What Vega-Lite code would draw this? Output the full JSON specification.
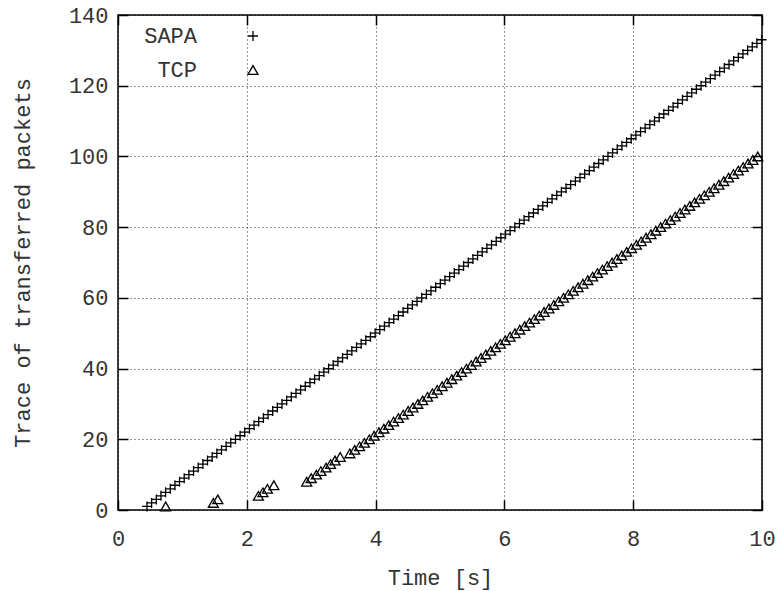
{
  "$schema": "https://vega.github.io/schema/vega-lite/v6.json",
  "width": 644,
  "height": 495,
  "autosize": {"type": "none"},
  "padding": {"left": 118, "top": 15, "right": 16, "bottom": 81},
  "background": "white",
  "config": {
    "view": {"stroke": "#000", "strokeWidth": 1.5},
    "font": "Liberation Mono",
    "axis": {
      "labelFont": "Liberation Mono",
      "titleFont": "Liberation Mono",
      "labelFontSize": 22,
      "titleFontSize": 22,
      "titleFontWeight": "normal",
      "labelColor": "#333",
      "titleColor": "#333",
      "labelFlush": false,
      "labelOverlap": false,
      "domain": false,
      "tickColor": "#000",
      "tickWidth": 1.5,
      "tickSize": -10,
      "gridColor": "#000",
      "gridDash": [1, 3],
      "gridWidth": 1,
      "gridOpacity": 0.85
    },
    "legend": {
      "labelFont": "Liberation Mono",
      "labelFontSize": 22,
      "labelColor": "#333"
    }
  },
  "data": {
    "values": [
      {"s":"SAPA","t":0.450,"n":1},{"s":"SAPA","t":0.522,"n":2},{"s":"SAPA","t":0.595,"n":3},{"s":"SAPA","t":0.667,"n":4},{"s":"SAPA","t":0.739,"n":5},
      {"s":"SAPA","t":0.812,"n":6},{"s":"SAPA","t":0.884,"n":7},{"s":"SAPA","t":0.956,"n":8},{"s":"SAPA","t":1.028,"n":9},{"s":"SAPA","t":1.101,"n":10},
      {"s":"SAPA","t":1.173,"n":11},{"s":"SAPA","t":1.245,"n":12},{"s":"SAPA","t":1.318,"n":13},{"s":"SAPA","t":1.390,"n":14},{"s":"SAPA","t":1.462,"n":15},
      {"s":"SAPA","t":1.535,"n":16},{"s":"SAPA","t":1.607,"n":17},{"s":"SAPA","t":1.679,"n":18},{"s":"SAPA","t":1.751,"n":19},{"s":"SAPA","t":1.824,"n":20},
      {"s":"SAPA","t":1.896,"n":21},{"s":"SAPA","t":1.968,"n":22},{"s":"SAPA","t":2.041,"n":23},{"s":"SAPA","t":2.113,"n":24},{"s":"SAPA","t":2.185,"n":25},
      {"s":"SAPA","t":2.258,"n":26},{"s":"SAPA","t":2.330,"n":27},{"s":"SAPA","t":2.402,"n":28},{"s":"SAPA","t":2.474,"n":29},{"s":"SAPA","t":2.547,"n":30},
      {"s":"SAPA","t":2.619,"n":31},{"s":"SAPA","t":2.691,"n":32},{"s":"SAPA","t":2.764,"n":33},{"s":"SAPA","t":2.836,"n":34},{"s":"SAPA","t":2.908,"n":35},
      {"s":"SAPA","t":2.981,"n":36},{"s":"SAPA","t":3.053,"n":37},{"s":"SAPA","t":3.125,"n":38},{"s":"SAPA","t":3.197,"n":39},{"s":"SAPA","t":3.270,"n":40},
      {"s":"SAPA","t":3.342,"n":41},{"s":"SAPA","t":3.414,"n":42},{"s":"SAPA","t":3.487,"n":43},{"s":"SAPA","t":3.559,"n":44},{"s":"SAPA","t":3.631,"n":45},
      {"s":"SAPA","t":3.704,"n":46},{"s":"SAPA","t":3.776,"n":47},{"s":"SAPA","t":3.848,"n":48},{"s":"SAPA","t":3.920,"n":49},{"s":"SAPA","t":3.993,"n":50},
      {"s":"SAPA","t":4.065,"n":51},{"s":"SAPA","t":4.137,"n":52},{"s":"SAPA","t":4.210,"n":53},{"s":"SAPA","t":4.282,"n":54},{"s":"SAPA","t":4.354,"n":55},
      {"s":"SAPA","t":4.427,"n":56},{"s":"SAPA","t":4.499,"n":57},{"s":"SAPA","t":4.571,"n":58},{"s":"SAPA","t":4.643,"n":59},{"s":"SAPA","t":4.716,"n":60},
      {"s":"SAPA","t":4.788,"n":61},{"s":"SAPA","t":4.860,"n":62},{"s":"SAPA","t":4.933,"n":63},{"s":"SAPA","t":5.005,"n":64},{"s":"SAPA","t":5.077,"n":65},
      {"s":"SAPA","t":5.150,"n":66},{"s":"SAPA","t":5.222,"n":67},{"s":"SAPA","t":5.294,"n":68},{"s":"SAPA","t":5.366,"n":69},{"s":"SAPA","t":5.439,"n":70},
      {"s":"SAPA","t":5.511,"n":71},{"s":"SAPA","t":5.583,"n":72},{"s":"SAPA","t":5.656,"n":73},{"s":"SAPA","t":5.728,"n":74},{"s":"SAPA","t":5.800,"n":75},
      {"s":"SAPA","t":5.873,"n":76},{"s":"SAPA","t":5.945,"n":77},{"s":"SAPA","t":6.017,"n":78},{"s":"SAPA","t":6.089,"n":79},{"s":"SAPA","t":6.162,"n":80},
      {"s":"SAPA","t":6.234,"n":81},{"s":"SAPA","t":6.306,"n":82},{"s":"SAPA","t":6.379,"n":83},{"s":"SAPA","t":6.451,"n":84},{"s":"SAPA","t":6.523,"n":85},
      {"s":"SAPA","t":6.596,"n":86},{"s":"SAPA","t":6.668,"n":87},{"s":"SAPA","t":6.740,"n":88},{"s":"SAPA","t":6.812,"n":89},{"s":"SAPA","t":6.885,"n":90},
      {"s":"SAPA","t":6.957,"n":91},{"s":"SAPA","t":7.029,"n":92},{"s":"SAPA","t":7.102,"n":93},{"s":"SAPA","t":7.174,"n":94},{"s":"SAPA","t":7.246,"n":95},
      {"s":"SAPA","t":7.319,"n":96},{"s":"SAPA","t":7.391,"n":97},{"s":"SAPA","t":7.463,"n":98},{"s":"SAPA","t":7.535,"n":99},{"s":"SAPA","t":7.608,"n":100},
      {"s":"SAPA","t":7.680,"n":101},{"s":"SAPA","t":7.752,"n":102},{"s":"SAPA","t":7.825,"n":103},{"s":"SAPA","t":7.897,"n":104},{"s":"SAPA","t":7.969,"n":105},
      {"s":"SAPA","t":8.042,"n":106},{"s":"SAPA","t":8.114,"n":107},{"s":"SAPA","t":8.186,"n":108},{"s":"SAPA","t":8.258,"n":109},{"s":"SAPA","t":8.331,"n":110},
      {"s":"SAPA","t":8.403,"n":111},{"s":"SAPA","t":8.475,"n":112},{"s":"SAPA","t":8.548,"n":113},{"s":"SAPA","t":8.620,"n":114},{"s":"SAPA","t":8.692,"n":115},
      {"s":"SAPA","t":8.765,"n":116},{"s":"SAPA","t":8.837,"n":117},{"s":"SAPA","t":8.909,"n":118},{"s":"SAPA","t":8.981,"n":119},{"s":"SAPA","t":9.054,"n":120},
      {"s":"SAPA","t":9.126,"n":121},{"s":"SAPA","t":9.198,"n":122},{"s":"SAPA","t":9.271,"n":123},{"s":"SAPA","t":9.343,"n":124},{"s":"SAPA","t":9.415,"n":125},
      {"s":"SAPA","t":9.488,"n":126},{"s":"SAPA","t":9.560,"n":127},{"s":"SAPA","t":9.632,"n":128},{"s":"SAPA","t":9.704,"n":129},{"s":"SAPA","t":9.777,"n":130},
      {"s":"SAPA","t":9.849,"n":131},{"s":"SAPA","t":9.921,"n":132},{"s":"SAPA","t":9.994,"n":133},
      {"s":"TCP","t":0.74,"n":1},{"s":"TCP","t":1.48,"n":2},{"s":"TCP","t":1.55,"n":3},{"s":"TCP","t":2.18,"n":4},{"s":"TCP","t":2.25,"n":5},
      {"s":"TCP","t":2.32,"n":6},{"s":"TCP","t":2.42,"n":7},{"s":"TCP","t":2.93,"n":8},{"s":"TCP","t":3.00,"n":9},{"s":"TCP","t":3.08,"n":10},
      {"s":"TCP","t":3.15,"n":11},{"s":"TCP","t":3.23,"n":12},{"s":"TCP","t":3.30,"n":13},{"s":"TCP","t":3.37,"n":14},{"s":"TCP","t":3.45,"n":15},
      {"s":"TCP","t":3.600,"n":16},{"s":"TCP","t":3.675,"n":17},{"s":"TCP","t":3.751,"n":18},{"s":"TCP","t":3.826,"n":19},{"s":"TCP","t":3.902,"n":20},
      {"s":"TCP","t":3.977,"n":21},{"s":"TCP","t":4.052,"n":22},{"s":"TCP","t":4.128,"n":23},{"s":"TCP","t":4.203,"n":24},{"s":"TCP","t":4.279,"n":25},
      {"s":"TCP","t":4.354,"n":26},{"s":"TCP","t":4.429,"n":27},{"s":"TCP","t":4.505,"n":28},{"s":"TCP","t":4.580,"n":29},{"s":"TCP","t":4.656,"n":30},
      {"s":"TCP","t":4.731,"n":31},{"s":"TCP","t":4.806,"n":32},{"s":"TCP","t":4.882,"n":33},{"s":"TCP","t":4.957,"n":34},{"s":"TCP","t":5.033,"n":35},
      {"s":"TCP","t":5.108,"n":36},{"s":"TCP","t":5.183,"n":37},{"s":"TCP","t":5.259,"n":38},{"s":"TCP","t":5.334,"n":39},{"s":"TCP","t":5.410,"n":40},
      {"s":"TCP","t":5.485,"n":41},{"s":"TCP","t":5.560,"n":42},{"s":"TCP","t":5.636,"n":43},{"s":"TCP","t":5.711,"n":44},{"s":"TCP","t":5.787,"n":45},
      {"s":"TCP","t":5.862,"n":46},{"s":"TCP","t":5.937,"n":47},{"s":"TCP","t":6.013,"n":48},{"s":"TCP","t":6.088,"n":49},{"s":"TCP","t":6.164,"n":50},
      {"s":"TCP","t":6.239,"n":51},{"s":"TCP","t":6.314,"n":52},{"s":"TCP","t":6.390,"n":53},{"s":"TCP","t":6.465,"n":54},{"s":"TCP","t":6.541,"n":55},
      {"s":"TCP","t":6.616,"n":56},{"s":"TCP","t":6.691,"n":57},{"s":"TCP","t":6.767,"n":58},{"s":"TCP","t":6.842,"n":59},{"s":"TCP","t":6.918,"n":60},
      {"s":"TCP","t":6.993,"n":61},{"s":"TCP","t":7.068,"n":62},{"s":"TCP","t":7.144,"n":63},{"s":"TCP","t":7.219,"n":64},{"s":"TCP","t":7.295,"n":65},
      {"s":"TCP","t":7.370,"n":66},{"s":"TCP","t":7.445,"n":67},{"s":"TCP","t":7.521,"n":68},{"s":"TCP","t":7.596,"n":69},{"s":"TCP","t":7.672,"n":70},
      {"s":"TCP","t":7.747,"n":71},{"s":"TCP","t":7.822,"n":72},{"s":"TCP","t":7.898,"n":73},{"s":"TCP","t":7.973,"n":74},{"s":"TCP","t":8.049,"n":75},
      {"s":"TCP","t":8.124,"n":76},{"s":"TCP","t":8.199,"n":77},{"s":"TCP","t":8.275,"n":78},{"s":"TCP","t":8.350,"n":79},{"s":"TCP","t":8.426,"n":80},
      {"s":"TCP","t":8.501,"n":81},{"s":"TCP","t":8.576,"n":82},{"s":"TCP","t":8.652,"n":83},{"s":"TCP","t":8.727,"n":84},{"s":"TCP","t":8.803,"n":85},
      {"s":"TCP","t":8.878,"n":86},{"s":"TCP","t":8.953,"n":87},{"s":"TCP","t":9.029,"n":88},{"s":"TCP","t":9.104,"n":89},{"s":"TCP","t":9.180,"n":90},
      {"s":"TCP","t":9.255,"n":91},{"s":"TCP","t":9.330,"n":92},{"s":"TCP","t":9.406,"n":93},{"s":"TCP","t":9.481,"n":94},{"s":"TCP","t":9.557,"n":95},
      {"s":"TCP","t":9.632,"n":96},{"s":"TCP","t":9.707,"n":97},{"s":"TCP","t":9.783,"n":98},{"s":"TCP","t":9.858,"n":99},{"s":"TCP","t":9.934,"n":100}
    ]
  },
  "layer": [
    {
      "mark": {"type": "point", "filled": false, "stroke": "#000", "strokeWidth": 1.3, "size": 100, "opacity": 1},
      "encoding": {
        "x": {"field": "t", "type": "quantitative", "scale": {"domain": [0, 10], "nice": false},
          "axis": {"title": "Time [s]", "values": [0, 2, 4, 6, 8, 10], "grid": true, "labelPadding": 28, "titlePadding": 18}},
        "y": {"field": "n", "type": "quantitative", "scale": {"domain": [0, 140], "nice": false},
          "axis": {"title": "Trace of transferred packets", "values": [0, 20, 40, 60, 80, 100, 120, 140], "grid": true, "labelPadding": 20, "titlePadding": 34}},
        "shape": {"field": "s", "type": "nominal",
          "scale": {"domain": ["SAPA", "TCP"], "range": ["M-1,0L1,0M0,-1L0,1", "triangle-up"]},
          "legend": {"title": null, "orient": "none", "legendX": 124, "legendY": 10, "labelAlign": "right", "labelOffset": -67, "rowPadding": 12, "symbolStrokeColor": "#000", "symbolFillColor": "transparent", "symbolStrokeWidth": 1.3, "symbolSize": 100}}
      }
    },
    {
      "mark": {"type": "point", "opacity": 0},
      "encoding": {
        "x": {"field": "t", "type": "quantitative", "axis": {"orient": "top", "title": null, "labels": false, "grid": false, "values": [0, 2, 4, 6, 8, 10]}},
        "y": {"field": "n", "type": "quantitative", "axis": {"orient": "right", "title": null, "labels": false, "grid": false, "values": [0, 20, 40, 60, 80, 100, 120, 140]}}
      }
    }
  ],
  "resolve": {"axis": {"x": "independent", "y": "independent"}}
}
